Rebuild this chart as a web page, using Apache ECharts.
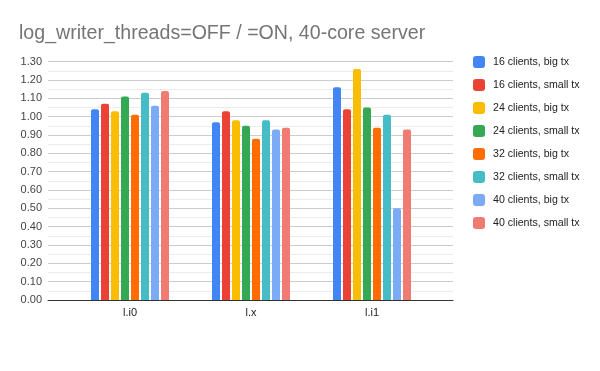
<!DOCTYPE html>
<html>
<head>
<meta charset="utf-8">
<script src="https://cdn.jsdelivr.net/npm/echarts@6/dist/echarts.min.js"></script>
<style>html,body{margin:0;padding:0;background:#fff}#c{width:600px;height:371px}</style>
</head>
<body>
<div id="c"></div>
<script>
const categories = ['l.i0', 'l.x', 'l.i1'];
const seriesNames = ['16 clients, big tx', '16 clients, small tx', '24 clients, big tx', '24 clients, small tx',
  '32 clients, big tx', '32 clients, small tx', '40 clients, big tx', '40 clients, small tx'];
const c16big = [1.04, 0.97, 1.16];
const c16small = [1.07, 1.03, 1.04];
const c24big = [1.03, 0.98, 1.26];
const c24small = [1.11, 0.95, 1.05];
const c32big = [1.01, 0.88, 0.94];
const c32small = [1.13, 0.98, 1.01];
const c40big = [1.06, 0.93, 0.50];
const c40small = [1.14, 0.94, 0.93];
const yTicks = [0, 0.1, 0.2, 0.3, 0.4, 0.5, 0.6, 0.7, 0.8, 0.9, 1.0, 1.1, 1.2, 1.3];

const allData = [c16big, c16small, c24big, c24small, c32big, c32small, c40big, c40small];
const colors = ['#4285F4', '#EA4335', '#FBBC04', '#34A853', '#FF6D01', '#46BDC6', '#7BAAF7', '#F07B72'];
const font = 'Arial, "Liberation Sans", sans-serif';

const chart = echarts.init(document.getElementById('c'), null, {renderer: 'canvas'});
const yMin = yTicks[0], yMax = yTicks[yTicks.length - 1], yStep = yTicks[1] - yTicks[0];

chart.setOption({
  animation: false,
  color: colors,
  title: {
    text: 'log_writer_threads=OFF / =ON, 40-core server',
    left: 14, top: 19,
    textStyle: {fontFamily: font, fontSize: 19.6, fontWeight: 'normal', color: '#757575'}
  },
  legend: {
    orient: 'vertical', left: 468, top: 51,
    itemWidth: 12, itemHeight: 12, itemGap: 11, icon: 'roundRect',
    textStyle: {fontFamily: font, fontSize: 10.6, color: '#222', padding: [0, 0, 0, 3]},
    data: seriesNames
  },
  grid: [
    {left: 69.5, right: 167.5, top: 61.7, bottom: 71, containLabel: false},
    {left: 48, right: 147, top: 61.7, bottom: 71, containLabel: false}
  ],
  xAxis: [
    {type: 'category', gridIndex: 0, data: categories,
     axisLine: {show: false}, axisTick: {show: false},
     axisLabel: {fontFamily: font, fontSize: 11, color: '#222', margin: 7}},
    {type: 'category', gridIndex: 1, data: [''],
     axisLine: {show: true, lineStyle: {color: '#333', width: 1}}, axisTick: {show: false},
     axisLabel: {show: false}, z: 10}
  ],
  yAxis: [
    {type: 'value', gridIndex: 0, min: yMin, max: yMax, interval: yStep, show: false, splitLine: {show: false}},
    {type: 'value', gridIndex: 1, min: yMin, max: yMax, interval: yStep,
     axisLine: {show: false}, axisTick: {show: false},
     axisLabel: {fontFamily: font, fontSize: 11, color: '#444', margin: 6, formatter: v => v.toFixed(2)},
     splitLine: {lineStyle: {color: '#cccccc', width: 1}},
     minorTick: {show: false, splitNumber: 2},
     minorSplitLine: {show: true, lineStyle: {color: '#ebebeb', width: 1}}}
  ],
  series: allData.map((d, i) => ({
    name: seriesNames[i], type: 'bar', xAxisIndex: 0, yAxisIndex: 0,
    data: d, barWidth: 8, barGap: '25%',
    itemStyle: {borderRadius: [2, 2, 0, 0]}
  }))
});
</script>
</body>
</html>
